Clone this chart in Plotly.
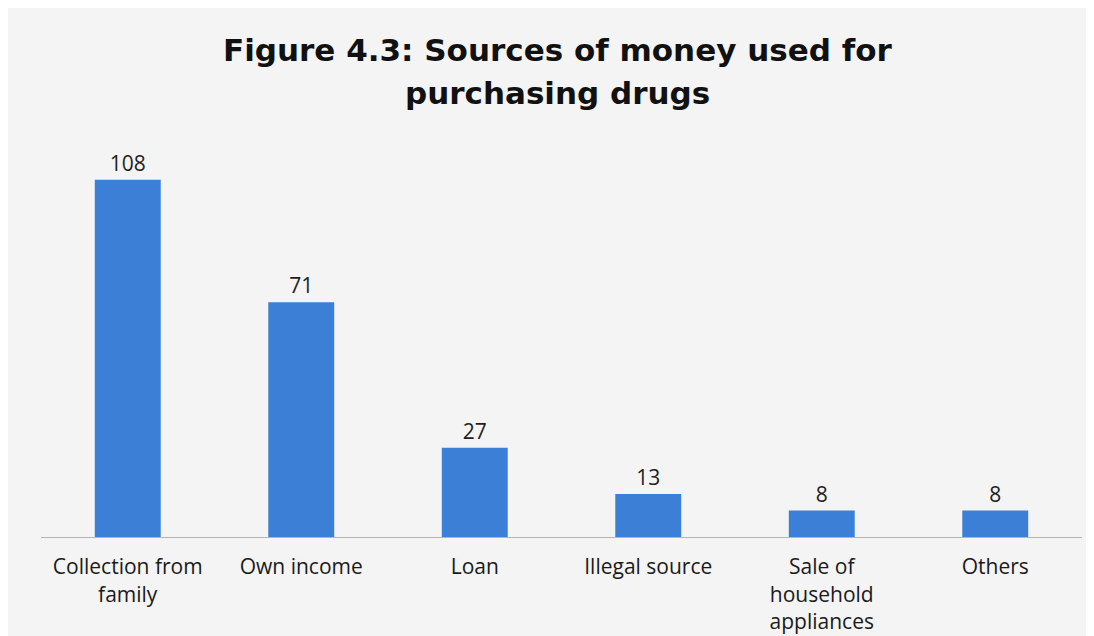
import plotly.graph_objects as go

categories = ["Collection from<br>family", "Own income", "Loan", "Illegal source",
              "Sale of<br>household<br>appliances", "Others"]
values = [108, 71, 27, 13, 8, 8]
title_lines = ["Figure 4.3: Sources of money used for", "purchasing drugs"]

fig = go.Figure(go.Bar(
    x=categories, y=values,
    marker=dict(color="#3b7fd6", line=dict(width=0)),
    width=0.38,
    text=[str(v) for v in values],
    textposition="outside",
    textfont=dict(family="Open Sans", size=21, color="#1e1e1e"),
    cliponaxis=False,
))

H = 628
T, B = 142, 99
PH = H - T - B
fig.update_layout(
    width=1086, height=H,
    paper_bgcolor="#f4f4f4", plot_bgcolor="#f4f4f4",
    margin=dict(l=33, r=12, t=T, b=B, autoexpand=False),
    showlegend=False,
    annotations=[
        dict(text="<b>%s</b>" % title_lines[0], xref="paper", yref="paper",
             x=0.496, y=1 + (T - 42) / PH, xanchor="center", yanchor="middle",
             showarrow=False, font=dict(family="DejaVu Sans", size=31, color="#111111")),
        dict(text="<b>%s</b>" % title_lines[1], xref="paper", yref="paper",
             x=0.496, y=1 + (T - 85) / PH, xanchor="center", yanchor="middle",
             showarrow=False, font=dict(family="DejaVu Sans", size=31, color="#111111")),
    ],
)
fig.update_xaxes(
    automargin=False,
    showline=True, linecolor="#b5b5b5", linewidth=1,
    showgrid=False, ticks="outside", ticklen=11, tickcolor="rgba(0,0,0,0)",
    tickfont=dict(family="Open Sans", size=21, color="#1a1a1a"),
)
fig.update_yaxes(visible=False, range=[0, 117], automargin=False)

fig.write_html("out.html")
